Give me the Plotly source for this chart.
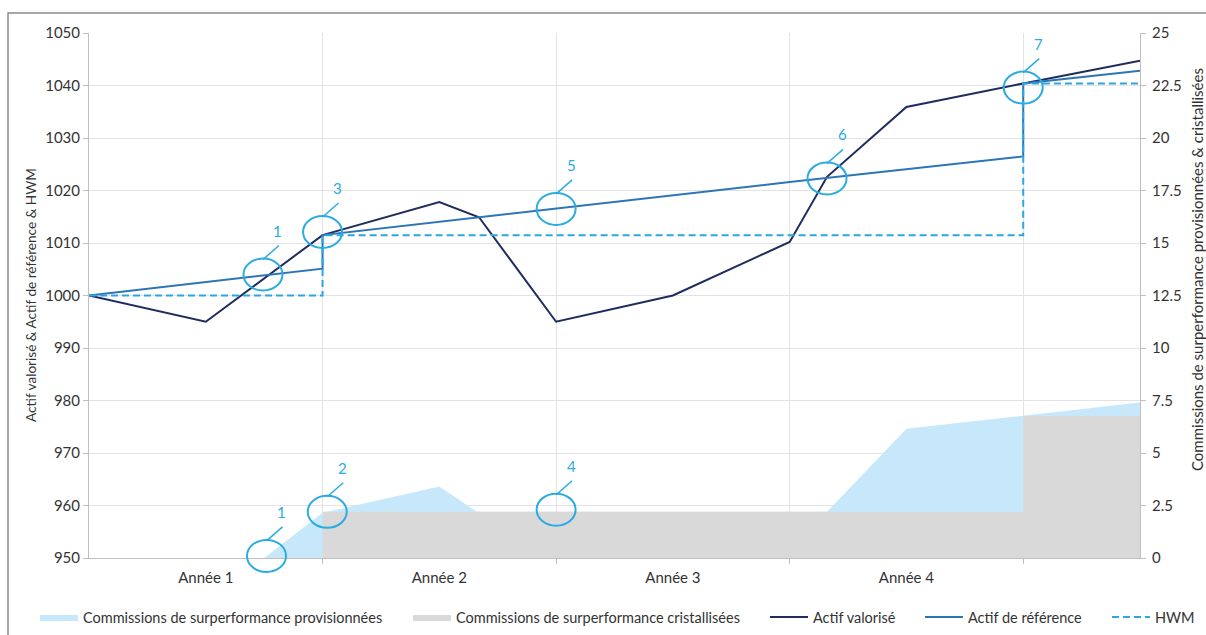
import plotly.graph_objects as go

# ---------------- data ----------------
YEAR_LABELS = ["Année 1", "Année 2", "Année 3", "Année 4"]
YEAR_LABEL_POS = [0.5, 1.5, 2.5, 3.5]
YEAR_BOUNDS = [1, 2, 3, 4]

VAL_X = [0, 0.5, 1, 1.5, 1.67, 2, 2.5, 3, 3.16, 3.5, 4, 4.5]
VAL_Y = [1000, 995, 1011.5, 1017.8, 1014.9, 995, 1000, 1010.2, 1022.6, 1035.9, 1040.4, 1044.7]

REF_X = [0, 1, 1, 2, 3, 4, 4, 4.5]
REF_Y = [1000, 1005.1, 1011.5, 1016.6, 1021.6, 1026.5, 1040.4, 1042.8]

HWM_X = [0, 1, 1, 4, 4, 4.5]
HWM_Y = [1000, 1000, 1011.5, 1011.5, 1040.4, 1040.4]

PROV_X = [0, 0.75, 1, 1.5, 1.66, 3.16, 3.5, 4, 4.5]
PROV_Y = [0, 0, 2.15, 3.4, 2.2, 2.2, 6.15, 6.76, 7.4]

CRYS_X = [0, 1, 1, 4, 4, 4.5]
CRYS_Y = [0, 0, 2.2, 2.2, 6.76, 6.76]

# numbered markers: (label, x, y, axis)
MARKS = [
    ("1", 0.745, 1004.0, "y"),
    ("3", 1.0, 1012.1, "y"),
    ("5", 2.0, 1016.5, "y"),
    ("6", 3.16, 1022.3, "y"),
    ("7", 4.0, 1039.6, "y"),
    ("1", 0.76, 0.1, "y2"),
    ("2", 1.02, 2.2, "y2"),
    ("4", 2.0, 2.3, "y2"),
]

X_RANGE = [0, 4.5]
Y_RANGE = [950, 1050]
Y2_RANGE = [0, 25]

NAVY = "#1F2D5E"
REFC = "#2E75B6"
HWMC = "#2AA7E1"
MARKC = "#2AABE2"
PROVC = "#C7E8FB"
CRYSC = "#D9D9D9"
GRID = "#E3E3E3"
AXIS = "#BFBFBF"
TXT = "#333333"
FONT = "Lato"

fig = go.Figure()

fig.add_trace(go.Scatter(x=PROV_X, y=PROV_Y, yaxis="y2", mode="lines", fill="tozeroy",
                         fillcolor=PROVC, line=dict(width=0, color=PROVC),
                         name="Commissions de surperformance provisionnées", legend="legend"))
fig.add_trace(go.Scatter(x=CRYS_X, y=CRYS_Y, yaxis="y2", mode="lines", fill="tozeroy",
                         fillcolor=CRYSC, line=dict(width=0, color=CRYSC),
                         name="Commissions de surperformance cristallisées", legend="legend2"))
fig.add_trace(go.Scatter(x=VAL_X, y=VAL_Y, mode="lines", line=dict(color=NAVY, width=2),
                         name="Actif valorisé", legend="legend3"))
fig.add_trace(go.Scatter(x=REF_X, y=REF_Y, mode="lines", line=dict(color=REFC, width=2),
                         name="Actif de référence", legend="legend4"))
fig.add_trace(go.Scatter(x=HWM_X, y=HWM_Y, mode="lines", line=dict(color=HWMC, width=2, dash="7px,4px"),
                         name="HWM", legend="legend5"))

# plot geometry (pixels)
W, H = 1206, 635
L, R, T, B = 89, 66, 33, 77
PW, PH = W - L - R, H - T - B

def px_x(px):
    return (px - L) / PW

def px_y(py):
    return (H - B - py) / PH

def to_paper(v, rng):
    return (v - rng[0]) / (rng[1] - rng[0])

shapes = []
annotations = []
for lab, x, y, ax in MARKS:
    xp = to_paper(x, X_RANGE)
    yp = to_paper(y, Y_RANGE if ax == "y" else Y2_RANGE)
    shapes.append(dict(type="circle", xref="paper", yref="paper", xsizemode="pixel", ysizemode="pixel",
                       xanchor=xp, yanchor=yp, x0=-19.5, x1=19.5, y0=-16, y1=16,
                       line=dict(color=MARKC, width=2), layer="above"))
    shapes.append(dict(type="line", xref="paper", yref="paper", xsizemode="pixel", ysizemode="pixel",
                       xanchor=xp, yanchor=yp, x0=0, x1=16, y0=15, y1=29,
                       line=dict(color=MARKC, width=1.5), layer="above"))
    annotations.append(dict(text=lab, x=xp, y=yp, xref="paper", yref="paper", showarrow=False,
                            xanchor="center", yanchor="middle",
                            xshift=15, yshift=44, font=dict(color=MARKC, size=15, family=FONT)))

# outer frame
shapes.append(dict(type="rect", xref="paper", yref="paper",
                   x0=px_x(8), x1=px_x(1215), y0=px_y(13), y1=px_y(650),
                   line=dict(color="#8A8A8A", width=1.5), layer="below"))

annotations.append(dict(text="Actif valorisé & Actif de référence & HWM", xref="paper", yref="paper",
                        x=px_x(31), y=px_y(295), textangle=-90, showarrow=False,
                        xanchor="center", yanchor="middle", font=dict(size=13.6, color=TXT, family=FONT)))
annotations.append(dict(text="Commissions de surperformance provisionnées & cristallisées", xref="paper", yref="paper",
                        x=px_x(1197), y=px_y(270), textangle=-90, showarrow=False,
                        xanchor="center", yanchor="middle", font=dict(size=15, color=TXT, family=FONT)))

legend_px = [43, 416, 773, 928, 1115]
leg_common = dict(orientation="h", yanchor="middle", xanchor="left", bgcolor="rgba(0,0,0,0)",
                  font=dict(size=14.5, color=TXT, family=FONT), itemwidth=38)
layout_legends = {}
for i, p in enumerate(legend_px):
    key = "legend" if i == 0 else f"legend{i+1}"
    layout_legends[key] = dict(leg_common, x=px_x(p - 8), y=px_y(617))

fig.update_layout(
    width=W, height=H,
    margin=dict(l=L, r=R, t=T, b=B, autoexpand=False),
    paper_bgcolor="white", plot_bgcolor="white",
    font=dict(family=FONT, color=TXT, size=13),
    showlegend=True,
    xaxis=dict(range=X_RANGE, tickmode="array", tickvals=YEAR_LABEL_POS, ticktext=YEAR_LABELS,
               ticks="", showgrid=False, showline=True, linecolor=AXIS, linewidth=1,
               tickfont=dict(size=15, color=TXT), zeroline=False, ticklabelstandoff=6,
               minor=dict(tickmode="array", tickvals=YEAR_BOUNDS, ticks="outside", ticklen=5,
                          tickcolor=AXIS, showgrid=True, gridcolor=GRID, gridwidth=1)),
    yaxis=dict(range=Y_RANGE, dtick=10, showgrid=True, gridcolor=GRID, showline=True,
               linecolor=AXIS, ticks="outside", ticklen=5, tickcolor=AXIS, zeroline=False,
               tickfont=dict(size=15, color=TXT)),
    yaxis2=dict(range=Y2_RANGE, dtick=2.5, overlaying="y", side="right", showgrid=False,
                showline=True, linecolor=AXIS, ticks="outside", ticklen=5, tickcolor=AXIS,
                zeroline=False, tickfont=dict(size=15, color=TXT), ticklabelstandoff=3),
    shapes=shapes,
    annotations=annotations,
    **layout_legends,
)

fig.write_html("out.html")
